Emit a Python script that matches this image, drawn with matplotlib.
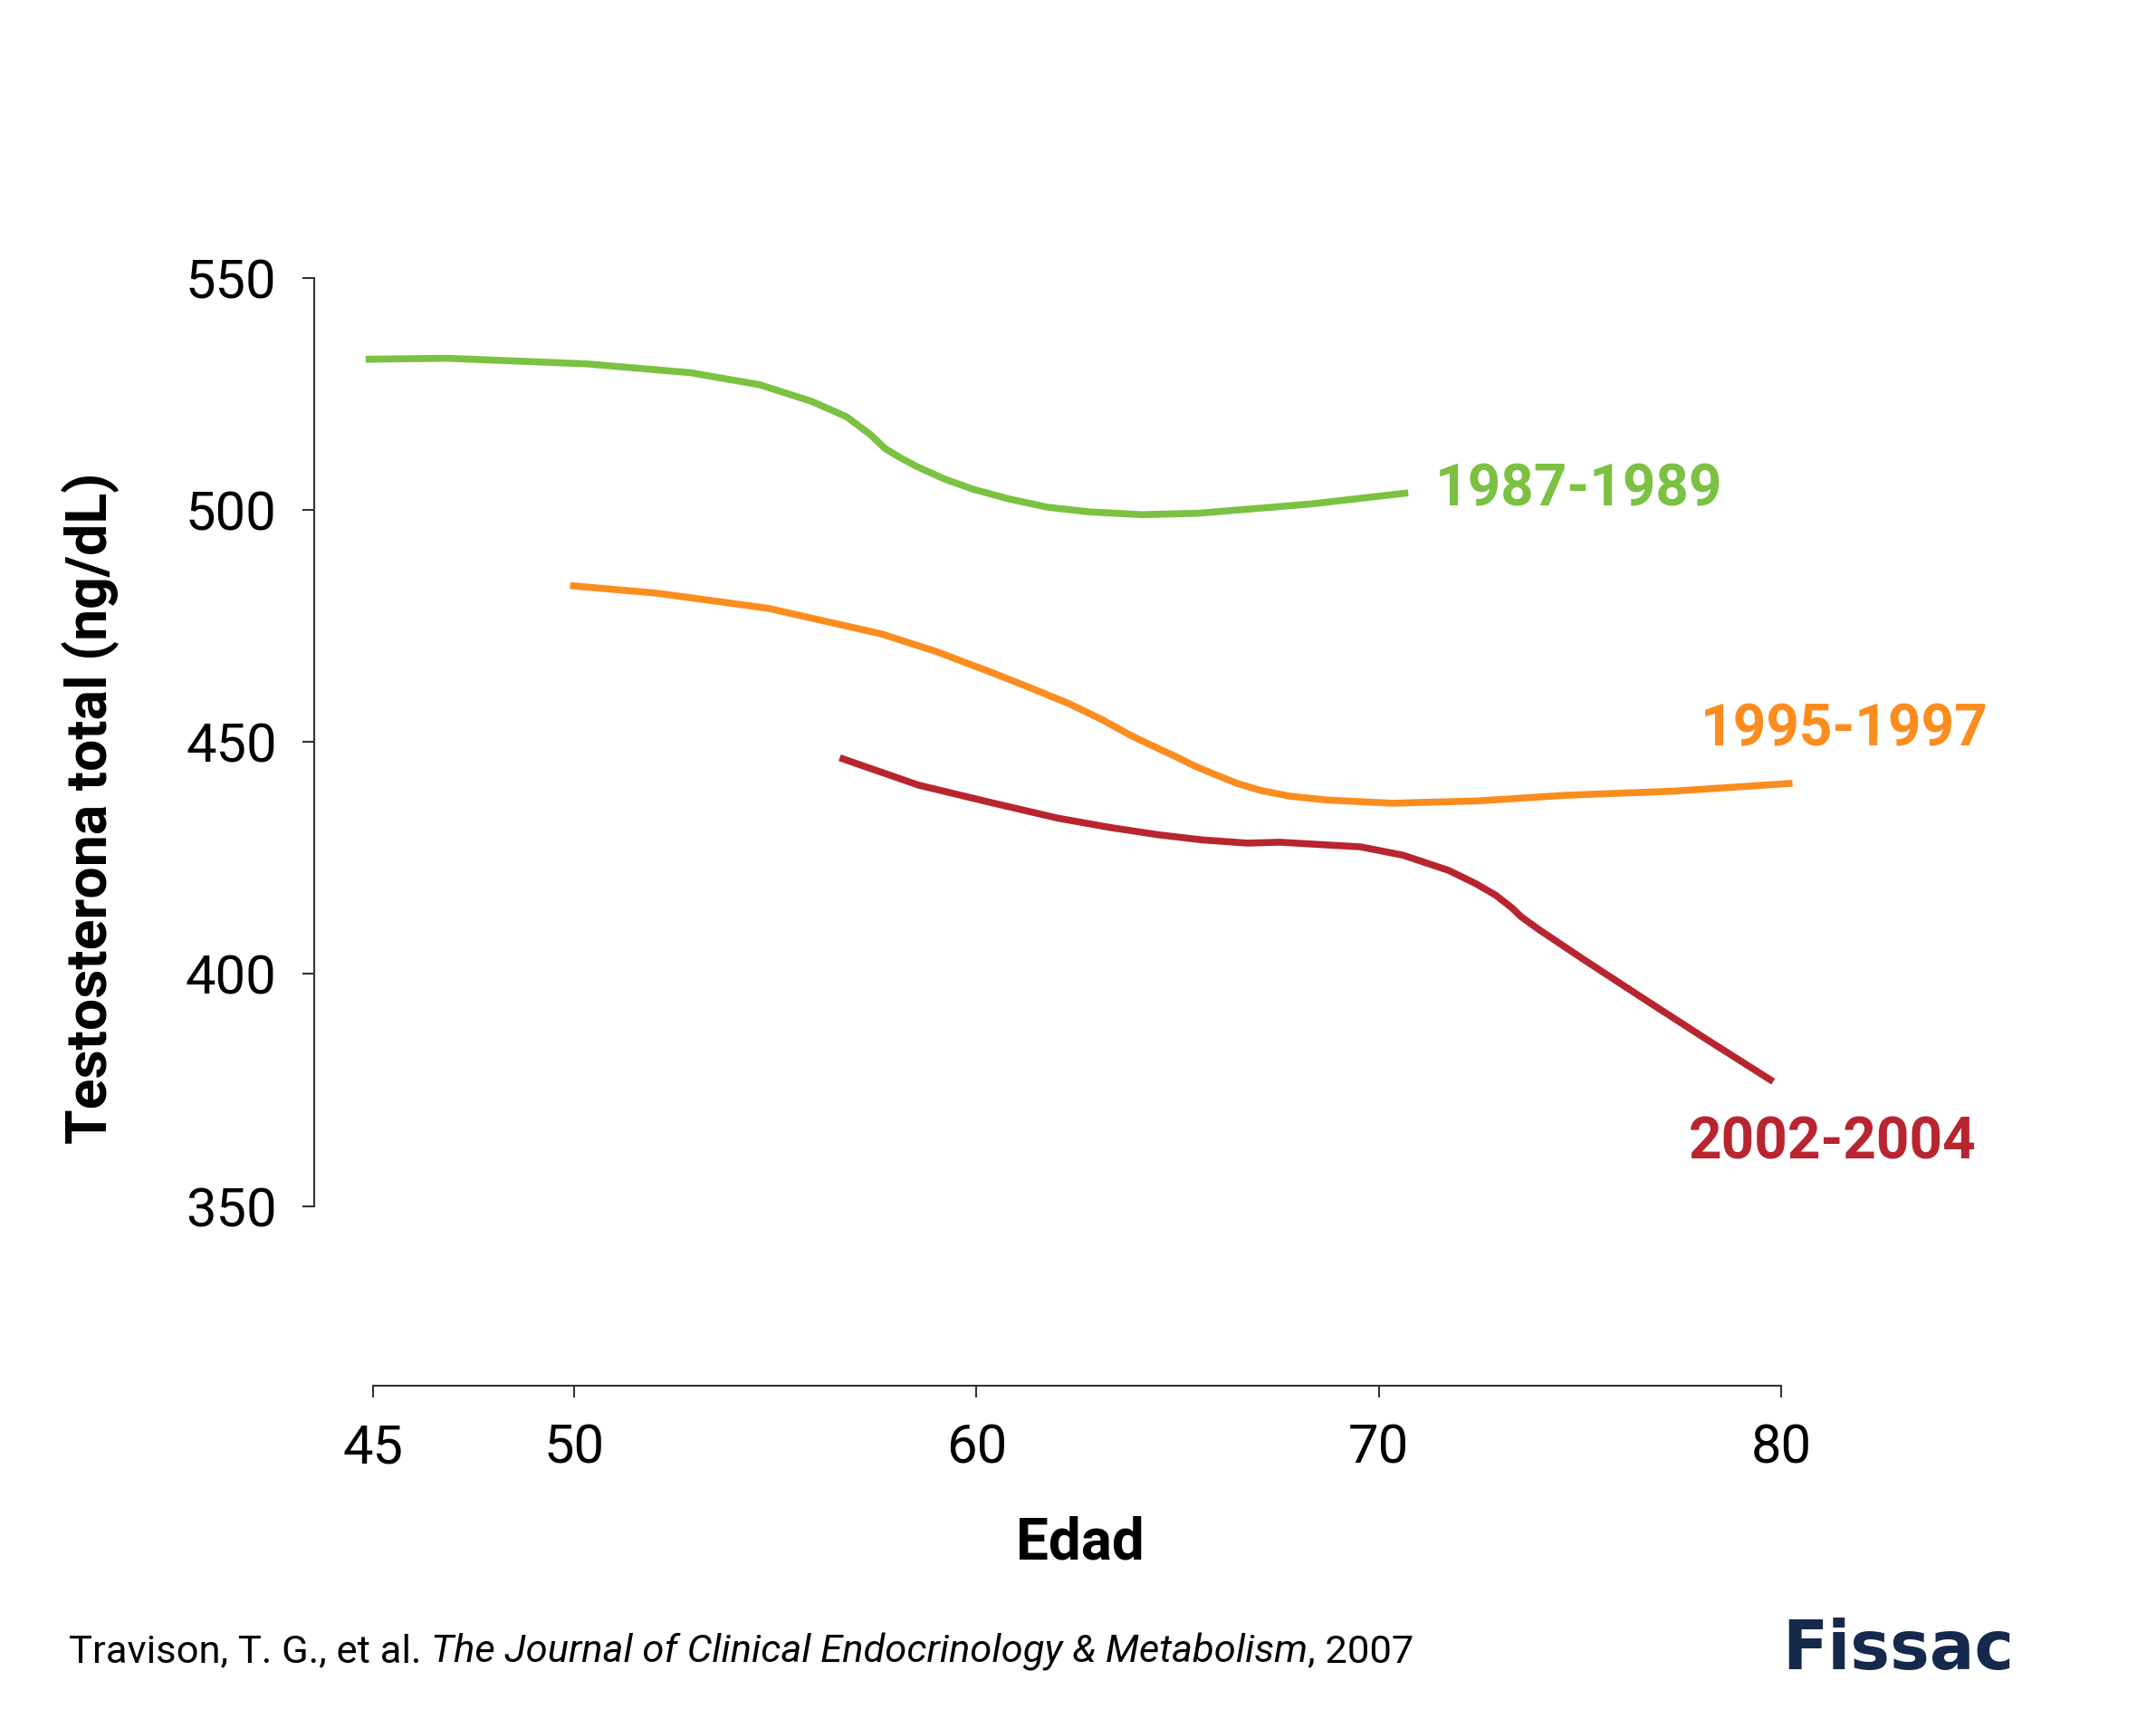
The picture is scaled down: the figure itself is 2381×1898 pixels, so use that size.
import matplotlib.pyplot as plt

plt.rcParams['font.family'] = ['Roboto', 'DejaVu Sans']

# Data (age, total testosterone ng/dL)
age_8789 = [44.82, 46.86, 50.31, 52.89, 54.61, 55.91, 56.77, 57.37, 57.72, 58.1,
            58.51, 59.2, 59.91, 60.8, 61.77, 62.8, 64.11, 65.51, 68.31, 70.73]
tt_8789 = [532.5, 532.7, 531.5, 529.6, 527.0, 523.4, 520.1, 516.2, 513.3, 511.3,
           509.4, 506.7, 504.5, 502.4, 500.6, 499.6, 499.0, 499.3, 501.3, 503.7]

age_9597 = [49.90, 52.03, 54.83, 57.63, 59.0, 60.43, 61.3, 62.29, 63.1, 63.86,
            64.32, 64.94, 65.4, 66.01, 66.5, 67.09, 67.8, 68.70, 70.32, 72.47,
            74.62, 77.31, 80.28]
tt_9597 = [483.7, 482.1, 478.8, 473.3, 469.5, 464.8, 461.8, 458.3, 454.9, 451.3,
           449.4, 446.9, 444.9, 442.7, 441.0, 439.5, 438.3, 437.5, 436.8, 437.3,
           438.5, 439.4, 441.1]

age_0204 = [56.60, 58.56, 60.43, 62.01, 63.3, 64.52, 65.6, 66.73, 67.53, 69.54,
            70.6, 71.74, 72.4, 72.9, 73.3, 73.54, 73.99, 75.11, 76.61, 78.11, 79.80]
tt_0204 = [446.6, 440.7, 436.8, 433.6, 431.6, 430.0, 428.9, 428.2, 428.4, 427.4,
           425.6, 422.3, 419.5, 417.0, 414.3, 412.3, 409.5, 403.0, 394.5, 386.1, 376.8]

series = ['1987-1989', '1995-1997', '2002-2004']
colors = ['#7BC142', '#FB8D1F', '#B8252F']
label_pos = [(71.4, 504.3), (78.0, 452.5), (77.7, 363.6)]

xticks = [45, 50, 60, 70, 80]
yticks = [350, 400, 450, 500, 550]

fig = plt.figure(figsize=(23.81, 18.98), dpi=100)
ax = fig.add_axes([0.14557, 0.19389, 0.68993, 0.64436])

for x, y, c in zip([age_8789, age_9597, age_0204], [tt_8789, tt_9597, tt_0204], colors):
    ax.plot(x, y, color=c, lw=5.5, solid_capstyle='butt', solid_joinstyle='round', clip_on=False)

for name, c, (lx, ly) in zip(series, colors, label_pos):
    ax.text(lx, ly, name, color=c, fontsize=46, fontweight='bold',
            ha='left', va='center', clip_on=False)

ax.set_xlim(43.53, 80.5)
ax.set_ylim(311.25, 550)
ax.set_xticks(xticks)
ax.set_yticks(yticks)
ax.spines['top'].set_visible(False)
ax.spines['right'].set_visible(False)
ax.spines['left'].set_bounds(350, 550)
ax.spines['bottom'].set_bounds(45, 80)
for s in ['left', 'bottom']:
    ax.spines[s].set_color('#333333')
    ax.spines[s].set_linewidth(1.5)
ax.tick_params(axis='both', length=9.5, width=1.5, color='#333333', labelsize=43, pad=20)

ax.set_xlabel('Edad', fontsize=46, fontweight='bold', va='center')
ax.xaxis.set_label_coords(0.5153, -0.1423)
ax.set_ylabel('Testosterona total (ng/dL)', fontsize=45, fontweight='bold', va='center')
ax.yaxis.set_label_coords(-0.1501, 0.521)

# source line with italic journal name
fig.canvas.draw()
r = fig.canvas.get_renderer()
x0 = 76 / 2381
y0 = 1 - 1824 / 1898
parts = [('Travison, T. G., et al. ', 'normal'),
         ('The Journal of Clinical Endocrinology & Metabolism', 'italic'),
         (', 2007', 'normal')]
for txt, style in parts:
    t = fig.text(x0, y0, txt, fontsize=31.3, style=style, ha='left', va='center')
    bb = t.get_window_extent(renderer=r)
    x0 += bb.width / fig.bbox.width

fig.text(1968 / 2381, 1 - 1823 / 1898, 'Fissac', fontsize=53, fontweight='heavy',
         family='DejaVu Sans', color='#14294B', ha='left', va='center')

fig.savefig('out.png', dpi=100, facecolor='white')
